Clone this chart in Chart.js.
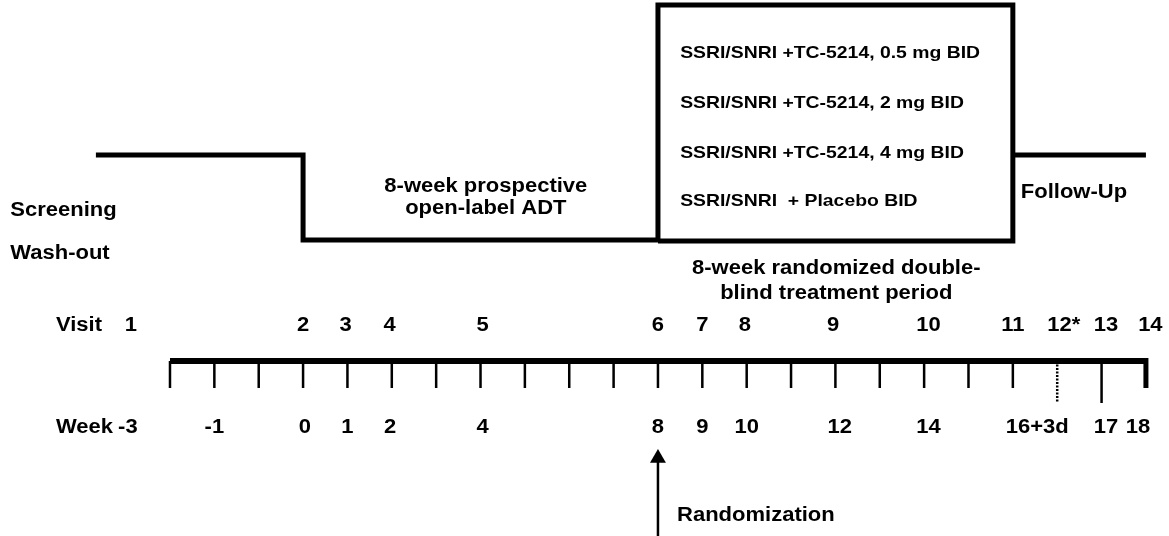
<!DOCTYPE html>
<html>
<head>
<meta charset="utf-8">
<script src="https://cdn.jsdelivr.net/npm/chart.js@4"></script>
<style>
  html, body { margin: 0; padding: 0; background: #fff; }
  #wrap { width: 1169px; height: 536px; position: relative; }
</style>
</head>
<body>
<div id="wrap"><canvas id="design"></canvas></div>
<script>
// Study design schematic - timeline in "tick" units (one tick per slot on the axis)

const weekLabels = ['-3', '-1', '0', '1', '2', '4', '8', '9', '10', '12', '14', '16+3d', '17', '18'];
const weekPos = [-0.95, 1, 3.04, 4, 4.96, 7.05, 11, 12, 13, 15.1, 17.1, 19.55, 21.1, 21.82];

const visitLabels = ['1', '2', '3', '4', '5', '6', '7', '8', '9', '10', '11', '12*', '13', '14'];
const visitPos = [-0.88, 3, 3.96, 4.95, 7.05, 11, 12, 12.96, 14.95, 17.1, 19, 20.15, 21.1, 22.1];

const tickCount = 23;          // ticks 0..22
const dottedTick = 20;         // optional visit 12*
const longTick = 21;           // week 17
const endTick = 22;            // week 18

// phases (x in tick units)
const phaseStart = -1.67;
const openLabelStart = 3;
const randomStart = 11;
const followUpStart = 19;
const studyEnd = 22;

const treatmentArms = [
    'SSRI/SNRI +TC-5214, 0.5 mg BID',
    'SSRI/SNRI +TC-5214, 2 mg BID',
    'SSRI/SNRI +TC-5214, 4 mg BID',
    'SSRI/SNRI  + Placebo BID'
];

// vertical levels (layout units, axis = 0)
const lvl = {
    high: 20.6, low: 12.1, boxTop: 35.6, boxBottom: 12.0,
    tickEnd: -2.7, longTickEnd: -4.2,
    visit: 3.6, week: -6.6,
    arrowBase: -17.5, arrowHead: -9.72
};

const ticks = [];
for (let k = 0; k < tickCount; k++) {
    if (k === dottedTick || k === endTick) continue;
    ticks.push({ x: k, y: 0 }, { x: k, y: k === longTick ? lvl.longTickEnd : lvl.tickEnd }, { x: k, y: null });
}

const FONT = 'bold 20px "Liberation Sans", Arial, sans-serif';
const ARM_FONT = 'bold 17px "Liberation Sans", Arial, sans-serif';

function drawText(ctx, text, px, py, align, font, sx) {
    ctx.save();
    ctx.font = font;
    ctx.textBaseline = 'middle';
    ctx.textAlign = 'left';
    const w = ctx.measureText(text).width * sx;
    const x0 = align === 'center' ? px - w / 2 : px;
    ctx.translate(x0, py);
    ctx.scale(sx, 1);
    ctx.fillStyle = '#000';
    ctx.fillText(text, 0, 0);
    ctx.restore();
}

const textPlugin = {
    id: 'designText',
    afterDatasetsDraw(chart) {
        const ctx = chart.ctx;
        const xs = chart.scales.x, ys = chart.scales.y;
        const X = v => xs.getPixelForValue(v);
        const Y = v => ys.getPixelForValue(v);
        const s = 1.1;

        drawText(ctx, 'Visit', X(-2.57), Y(lvl.visit), 'left', FONT, s);
        visitLabels.forEach((t, i) => drawText(ctx, t, X(visitPos[i]), Y(lvl.visit), 'center', FONT, s));
        drawText(ctx, 'Week', X(-2.57), Y(lvl.week), 'left', FONT, s);
        weekLabels.forEach((t, i) => drawText(ctx, t, X(weekPos[i]), Y(lvl.week), 'center', FONT, s));

        drawText(ctx, 'Screening', X(-3.6), Y(15.1), 'left', FONT, s);
        drawText(ctx, 'Wash-out', X(-3.6), Y(10.8), 'left', FONT, s);
        drawText(ctx, '8-week prospective', X(7.12), Y(17.5), 'center', FONT, s);
        drawText(ctx, 'open-label ADT', X(7.12), Y(15.3), 'center', FONT, s);
        drawText(ctx, 'Follow-Up', X(19.18), Y(16.9), 'left', FONT, s);
        drawText(ctx, '8-week randomized double-', X(15.02), Y(9.3), 'center', FONT, s);
        drawText(ctx, 'blind treatment period', X(15.02), Y(6.8), 'center', FONT, s);
        drawText(ctx, 'Randomization', X(11.43), Y(-15.4), 'left', FONT, s);

        const armY = [30.8, 25.8, 20.8, 16.0];
        treatmentArms.forEach((t, i) => drawText(ctx, t, X(11.5), Y(armY[i]), 'left', ARM_FONT, 1.14));
    }
};

const line = (data, width, extra) => Object.assign({
    data, showLine: true, borderColor: '#000', backgroundColor: '#000',
    borderWidth: width, pointRadius: 0, tension: 0, spanGaps: false,
    borderCapStyle: 'butt', borderJoinStyle: 'miter'
}, extra || {});

new Chart(document.getElementById('design'), {
    type: 'scatter',
    data: {
        datasets: [
            // screening -> open label step
            line([
                { x: phaseStart, y: lvl.high }, { x: openLabelStart, y: lvl.high },
                { x: openLabelStart, y: lvl.low }, { x: randomStart, y: lvl.low }
            ], 5),
            // randomized treatment box
            line([
                { x: randomStart, y: lvl.boxBottom }, { x: randomStart, y: lvl.boxTop },
                { x: followUpStart, y: lvl.boxTop }, { x: followUpStart, y: lvl.boxBottom },
                { x: randomStart, y: lvl.boxBottom }
            ], 5),
            // follow-up
            line([{ x: followUpStart, y: lvl.high }, { x: studyEnd, y: lvl.high }], 5),
            // time axis
            line([{ x: 0, y: 0 }, { x: studyEnd, y: 0 }], 6),
            line(ticks, 2.5),
            line([{ x: dottedTick, y: 0 }, { x: dottedTick, y: lvl.longTickEnd }], 2.5, { borderDash: [2, 1.5] }),
            line([{ x: endTick, y: 0.3 }, { x: endTick, y: lvl.tickEnd }], 5),
            // randomization arrow
            line([{ x: randomStart, y: lvl.arrowBase }, { x: randomStart, y: lvl.arrowHead }], 2.5, {
                pointStyle: 'triangle', pointRadius: [0, 9.2], pointBorderWidth: 0
            })
        ]
    },
    options: {
        responsive: true,
        maintainAspectRatio: false,
        animation: false,
        layout: { padding: 0, autoPadding: false },
        scales: {
            x: { type: 'linear', display: false, min: -3.832, max: 22.52 },
            y: { type: 'linear', display: false, min: -17.5, max: 36.1 }
        },
        plugins: {
            legend: { display: false },
            tooltip: { enabled: false }
        }
    },
    plugins: [textPlugin]
});
</script>
</body>
</html>
